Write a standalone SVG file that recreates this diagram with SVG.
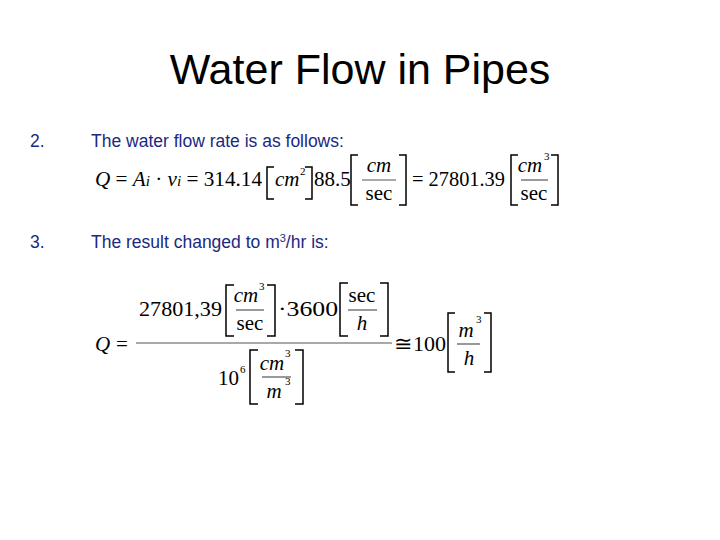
<svg xmlns="http://www.w3.org/2000/svg" width="720" height="540" viewBox="0 0 720 540">
<style>
.t{font-family:"Liberation Sans",Arial,sans-serif;fill:#1a2a80;font-size:17.5px}
.m{font-family:"Liberation Serif","Times New Roman",serif;font-size:21px;fill:#000}
.i{font-style:italic}
.s{font-size:11px}
.b{fill:none;stroke:#000;stroke-width:1.5}
.f{stroke:#555;stroke-width:1.2}
</style>
<rect width="720" height="540" fill="#fff"/>
<text x="360" y="84" text-anchor="middle" font-family="Liberation Sans,Arial,sans-serif" font-size="43">Water Flow in Pipes</text>
<g id="item2">
<text class="t" x="30" y="147">2.</text>
<text class="t" x="91" y="147">The water flow rate is as follows:</text>
</g>
<g id="eq1">
<text class="m" x="95" y="186" textLength="167" lengthAdjust="spacingAndGlyphs"><tspan class="i">Q</tspan> = <tspan class="i">A</tspan><tspan class="i" font-size="15">i</tspan> · <tspan class="i">v</tspan><tspan class="i" font-size="15">i</tspan> = 314.14</text>
<path class="b" d="M274,167 H267 V199 H274"/>
<text class="m i" x="275" y="186">cm</text><text class="m s" x="300" y="175">2</text>
<path class="b" d="M305,167 H312 V199 H305"/>
<text class="m" x="314" y="186">88.5</text>
<path class="b" d="M358,155 H351 V205 H358"/>
<text class="m i" x="379" y="172" text-anchor="middle">cm</text>
<line class="f" x1="362" y1="180" x2="396" y2="180"/>
<text class="m" x="379" y="200" text-anchor="middle">sec</text>
<path class="b" d="M399,155 H406 V205 H399"/>
<text class="m" x="412" y="186" textLength="93" lengthAdjust="spacingAndGlyphs">= 27801.39</text>
<path class="b" d="M518,155 H511 V205 H518"/>
<text class="m i" x="530" y="172" text-anchor="middle">cm</text><text class="m s" x="544" y="160">3</text>
<line class="f" x1="521" y1="180" x2="548" y2="180"/>
<text class="m" x="534" y="200" text-anchor="middle">sec</text>
<path class="b" d="M551,155 H558 V205 H551"/>
</g>
<g id="item3">
<text class="t" x="30" y="248">3.</text>
<text class="t" x="91" y="248">The result changed to m<tspan font-size="11" dy="-6">3</tspan><tspan dy="6">/hr is:</tspan></text>
</g>
<g id="eq2">
<text class="m i" x="95" y="351">Q</text>
<text class="m" x="116" y="351">=</text>
<line class="f" x1="136" y1="343" x2="392" y2="343"/>
<text class="m" x="139" y="316" textLength="83" lengthAdjust="spacingAndGlyphs">27801,39</text>
<path class="b" d="M234,285 H226 V336 H234"/>
<text class="m i" x="246" y="302" text-anchor="middle">cm</text><text class="m s" x="259" y="290">3</text>
<line class="f" x1="236" y1="310" x2="264" y2="310"/>
<text class="m" x="250" y="330" text-anchor="middle">sec</text>
<path class="b" d="M267,285 H275 V336 H267"/>
<text class="m" x="278" y="316" textLength="60" lengthAdjust="spacingAndGlyphs">·3600</text>
<path class="b" d="M348,283 H340 V336 H348"/>
<text class="m" x="362" y="302" text-anchor="middle">sec</text>
<line class="f" x1="348" y1="310" x2="377" y2="310"/>
<text class="m i" x="362" y="330" text-anchor="middle">h</text>
<path class="b" d="M380,283 H388 V336 H380"/>
<text class="m" x="218" y="385">10</text><text class="m s" x="240" y="373">6</text>
<path class="b" d="M258,350 H250 V404 H258"/>
<text class="m i" x="272" y="370" text-anchor="middle">cm</text><text class="m s" x="285" y="357">3</text>
<line class="f" x1="262" y1="377" x2="291" y2="377"/>
<text class="m i" x="274" y="398" text-anchor="middle">m</text><text class="m s" x="285" y="385">3</text>
<path class="b" d="M295,350 H303 V404 H295"/>
<text class="m" x="394" y="351" textLength="52" lengthAdjust="spacingAndGlyphs">≅100</text>
<path class="b" d="M455,313 H448 V372 H455"/>
<text class="m i" x="466" y="337" text-anchor="middle">m</text><text class="m s" x="476" y="323">3</text>
<line class="f" x1="457" y1="344" x2="480" y2="344"/>
<text class="m i" x="469" y="365" text-anchor="middle">h</text>
<path class="b" d="M484,313 H491 V372 H484"/>
</g>
</svg>
